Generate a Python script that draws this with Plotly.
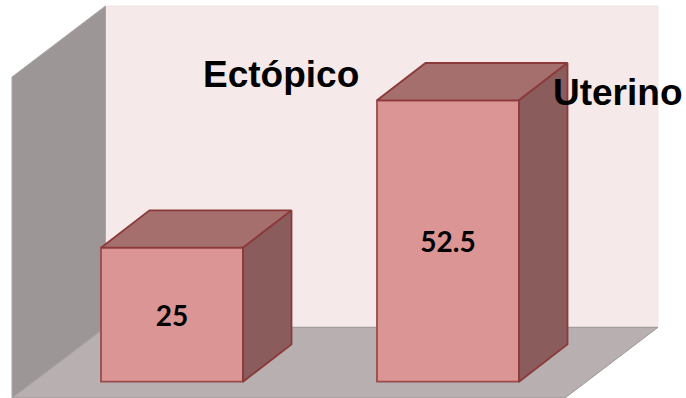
import plotly.graph_objects as go

categories = ["Ectópico", "Uterino"]
values = [25, 52.5]
value_labels = ["25", "52.5"]

W, H = 686, 398
X0_PX, X_STEP_PX = 172.0, 276.0   # pixel centre of first bar, spacing
Y0_PX, PX_PER_UNIT = 381.7, 5.36  # pixel of value 0, pixels per unit
BAR_W = 142.0 / X_STEP_PX
DX = 48.5 / X_STEP_PX             # depth offsets in axis units
DY = 37.3 / PX_PER_UNIT

FRONT, TOP, SIDE, EDGE = "#db9595", "#a56f6e", "#8b5c5c", "#8b3a3a"
x = list(range(len(categories)))

fig = go.Figure()
fig.add_trace(go.Bar(
    x=x, y=values, width=BAR_W, text=value_labels, textposition="inside",
    insidetextanchor="middle", textangle=0, cliponaxis=False,
    textfont=dict(family="Lato", size=28, color="black", weight="bold"),
    marker=dict(color=FRONT, line=dict(color="#9a4b4b", width=1.8)),
    hovertext=categories, showlegend=False))

for xi, v in zip(x, values):
    l, r = xi - BAR_W / 2, xi + BAR_W / 2
    fig.add_trace(go.Scatter(
        x=[l, r, r + DX, l + DX, l], y=[v, v, v + DY, v + DY, v],
        mode="lines", fill="toself", fillcolor=TOP,
        line=dict(color=EDGE, width=1.8), showlegend=False, hoverinfo="skip"))
    fig.add_trace(go.Scatter(
        x=[r, r + DX, r + DX, r, r], y=[v, v + DY, DY, 0, v],
        mode="lines", fill="toself", fillcolor=SIDE,
        line=dict(color=EDGE, width=1.8), showlegend=False, hoverinfo="skip"))


def poly(pts):
    return "M " + " L ".join(f"{px / W:.5f},{1 - py / H:.5f}" for px, py in pts) + " Z"


walls = [
    ([(105.5, 6), (658, 6), (658, 327.3), (105.5, 327.3)], "#f5e9e9", "#f0e4e4"),
    ([(105.5, 327.3), (658, 327.3), (565, 398), (12, 398)], "#b8b0b0", "#9a9696"),
    ([(12, 77), (105.5, 6), (105.5, 327.3), (12, 398)], "#9c9796", "#aaa6a5"),
]
shapes = [dict(type="path", xref="paper", yref="paper", path=poly(p), fillcolor=f,
               line=dict(color=c, width=1), layer="below") for p, f, c in walls]

label_pos = [(280.5, 74), (617.5, 92.5)]
annotations = [dict(text=c, xref="paper", yref="paper", x=px / W, y=1 - py / H,
                    xanchor="center", yanchor="middle", showarrow=False,
                    font=dict(family="Liberation Sans", size=37, color="black", weight="bold"))
               for c, (px, py) in zip(categories, label_pos)]

fig.update_layout(
    width=W, height=H, margin=dict(l=0, r=0, t=0, b=0),
    paper_bgcolor="white", plot_bgcolor="rgba(0,0,0,0)",
    shapes=shapes, annotations=annotations, showlegend=False,
    xaxis=dict(range=[-X0_PX / X_STEP_PX, (W - X0_PX) / X_STEP_PX], visible=False, fixedrange=True),
    yaxis=dict(range=[-(H - Y0_PX) / PX_PER_UNIT, Y0_PX / PX_PER_UNIT], visible=False, fixedrange=True),
)
fig.write_html("out.html", config=dict(displayModeBar=False),
               post_script="document.body.style.margin='0';document.body.style.overflow='hidden';")
